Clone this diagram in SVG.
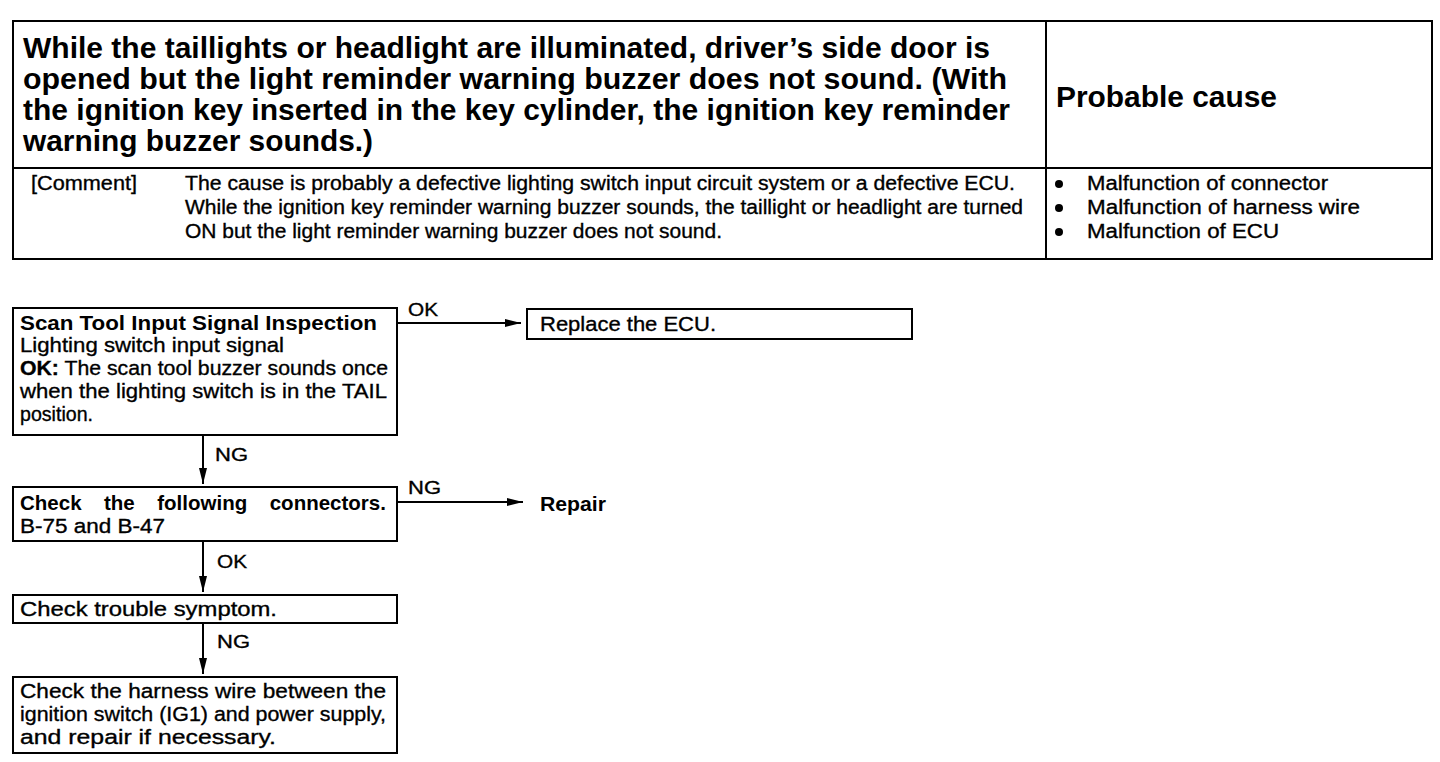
<svg xmlns="http://www.w3.org/2000/svg" width="1440" height="762" viewBox="0 0 1440 762">
<defs>
<style>
.ln{stroke:#000;stroke-width:2;fill:none}
.bx{stroke:#000;stroke-width:2;fill:#fff}
text{font-family:"Liberation Sans",Arial,sans-serif;fill:#000}
.h{font-weight:bold;font-size:29px}
.c{font-size:20px;stroke:#000;stroke-width:0.35}
.t{font-size:20.5px;stroke:#000;stroke-width:0.35}
.tb{font-size:20.5px;font-weight:bold}
.lb{font-size:19px;stroke:#000;stroke-width:0.35}
</style>
<marker id="ah" viewBox="0 0 16 10" refX="16" refY="5" markerWidth="16" markerHeight="10" markerUnits="userSpaceOnUse" orient="auto">
<path d="M0,1 L16,5 L0,9 Z" fill="#000"/>
</marker>
</defs>
<g id="table">
<rect class="ln" x="13" y="21" width="1419" height="238"/>
<line class="ln" x1="1046" y1="21" x2="1046" y2="259"/>
<line class="ln" x1="13" y1="168" x2="1432" y2="168"/>
<text class="h" x="23" y="58" textLength="967" lengthAdjust="spacingAndGlyphs">While the taillights or headlight are illuminated, driver’s side door is</text>
<text class="h" x="23" y="89" textLength="984" lengthAdjust="spacingAndGlyphs">opened but the light reminder warning buzzer does not sound. (With</text>
<text class="h" x="23" y="120" textLength="987" lengthAdjust="spacingAndGlyphs">the ignition key inserted in the key cylinder, the ignition key reminder</text>
<text class="h" x="23" y="151" textLength="350" lengthAdjust="spacingAndGlyphs">warning buzzer sounds.)</text>
<text class="h" x="1056" y="107" textLength="221" lengthAdjust="spacingAndGlyphs">Probable cause</text>
<text class="c" x="31" y="190" textLength="106" lengthAdjust="spacingAndGlyphs">[Comment]</text>
<text class="c" x="185" y="190" textLength="830" lengthAdjust="spacingAndGlyphs">The cause is probably a defective lighting switch input circuit system or a defective ECU.</text>
<text class="c" x="185" y="214" textLength="838" lengthAdjust="spacingAndGlyphs">While the ignition key reminder warning buzzer sounds, the taillight or headlight are turned</text>
<text class="c" x="185" y="238" textLength="537" lengthAdjust="spacingAndGlyphs">ON but the light reminder warning buzzer does not sound.</text>
<circle cx="1059" cy="184" r="4"/>
<circle cx="1059" cy="208" r="4"/>
<circle cx="1059" cy="232" r="4"/>
<text class="c" x="1087" y="190" textLength="241" lengthAdjust="spacingAndGlyphs">Malfunction of connector</text>
<text class="c" x="1087" y="214" textLength="273" lengthAdjust="spacingAndGlyphs">Malfunction of harness wire</text>
<text class="c" x="1087" y="238" textLength="192" lengthAdjust="spacingAndGlyphs">Malfunction of ECU</text>
</g>
<g id="connectors">
<line class="ln" x1="397" y1="323" x2="521" y2="323" marker-end="url(#ah)"/>
<text class="lb" x="408" y="316" textLength="30" lengthAdjust="spacingAndGlyphs">OK</text>
<line class="ln" x1="203" y1="435" x2="203" y2="484" marker-end="url(#ah)"/>
<text class="lb" x="215" y="461" textLength="33" lengthAdjust="spacingAndGlyphs">NG</text>
<line class="ln" x1="397" y1="502" x2="523" y2="502" marker-end="url(#ah)"/>
<text class="lb" x="408" y="494" textLength="33" lengthAdjust="spacingAndGlyphs">NG</text>
<line class="ln" x1="203" y1="541" x2="203" y2="592" marker-end="url(#ah)"/>
<text class="lb" x="217" y="568" textLength="30" lengthAdjust="spacingAndGlyphs">OK</text>
<line class="ln" x1="203" y1="623" x2="203" y2="674" marker-end="url(#ah)"/>
<text class="lb" x="217" y="648" textLength="33" lengthAdjust="spacingAndGlyphs">NG</text>
</g>
<g id="n1">
<rect class="bx" x="13" y="308" width="384" height="127"/>
<text class="tb" x="20" y="330" textLength="357" lengthAdjust="spacingAndGlyphs">Scan Tool Input Signal Inspection</text>
<text class="t" x="20" y="352" textLength="264" lengthAdjust="spacingAndGlyphs">Lighting switch input signal</text>
<text class="t" x="20" y="375" textLength="368" lengthAdjust="spacingAndGlyphs"><tspan font-weight="bold">OK:</tspan> The scan tool buzzer sounds once</text>
<text class="t" x="20" y="398" textLength="367" lengthAdjust="spacingAndGlyphs">when the lighting switch is in the TAIL</text>
<text class="t" x="20" y="421" textLength="73" lengthAdjust="spacingAndGlyphs">position.</text>
</g>
<g id="n2">
<rect class="bx" x="527" y="309" width="385" height="30"/>
<text class="t" x="540" y="331" textLength="176" lengthAdjust="spacingAndGlyphs">Replace the ECU.</text>
</g>
<g id="n3">
<rect class="bx" x="13" y="487" width="384" height="54"/>
<text class="tb" x="20" y="510" word-spacing="16.8">Check the following connectors.</text>
<text class="t" x="20" y="533" textLength="145" lengthAdjust="spacingAndGlyphs">B-75 and B-47</text>
</g>
<g id="n4">
<text class="tb" x="540" y="511" textLength="66" lengthAdjust="spacingAndGlyphs">Repair</text>
</g>
<g id="n5">
<rect class="bx" x="13" y="595" width="384" height="28"/>
<text class="t" x="20" y="616" textLength="257" lengthAdjust="spacingAndGlyphs">Check trouble symptom.</text>
</g>
<g id="n6">
<rect class="bx" x="13" y="677" width="384" height="76"/>
<text class="t" x="20" y="698" textLength="366" lengthAdjust="spacingAndGlyphs">Check the harness wire between the</text>
<text class="t" x="20" y="721" textLength="366" lengthAdjust="spacingAndGlyphs">ignition switch (IG1) and power supply,</text>
<text class="t" x="20" y="744" textLength="256" lengthAdjust="spacingAndGlyphs">and repair if necessary.</text>
</g>
</svg>
